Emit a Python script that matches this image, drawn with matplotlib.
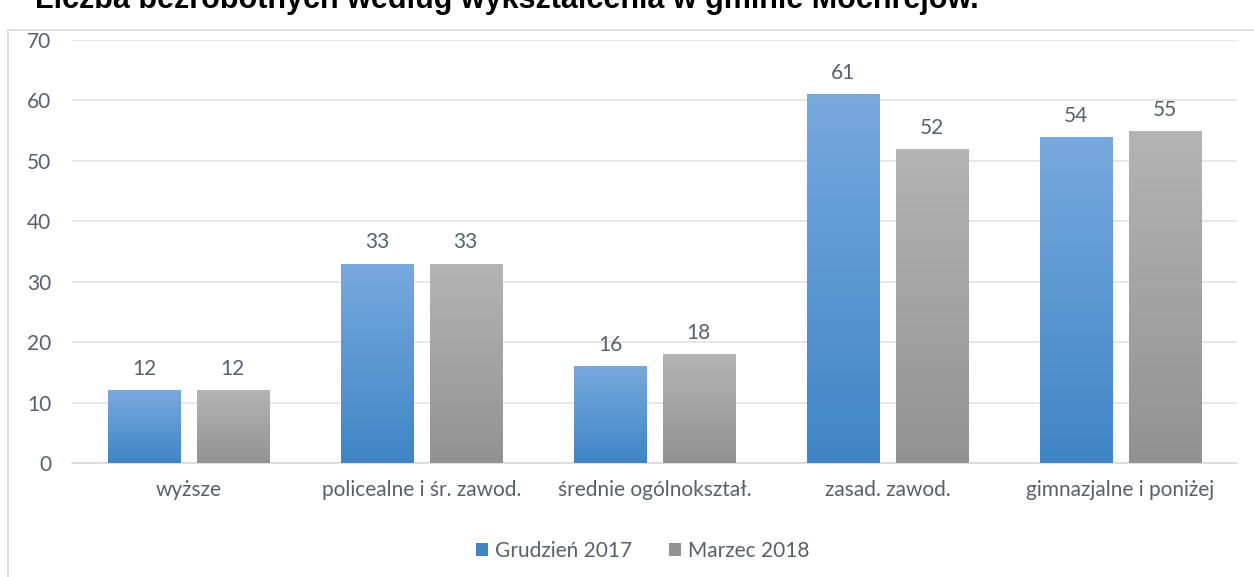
import numpy as np
import matplotlib.pyplot as plt
from matplotlib.patches import Rectangle
from matplotlib.colors import LinearSegmentedColormap

# ==========================================================
# DATA
# ==========================================================

categories = [
    "wyższe",
    "policealne i śr. zawod.",
    "średnie ogólnokształ.",
    "zasad. zawod.",
    "gimnazjalne i poniżej",
]
series_names = ["Grudzień 2017", "Marzec 2018"]
dec_2017 = [12, 33, 16, 61, 54]
mar_2018 = [12, 33, 18, 52, 55]

TITLE = "Liczba bezrobotnych według wykształcenia w gminie Mochrejów."

# ==========================================================
# STYLE
# ==========================================================

plt.rcParams["font.family"] = ["Lato", "DejaVu Sans"]
TEXT_COLOR = "#595f6b"
GRID_COLOR = "#e3e3e3"

BLUE_TOP, BLUE_BOT = "#78a9dd", "#3f85c6"
GRAY_TOP, GRAY_BOT = "#b4b4b4", "#929292"

BAR_W = 0.31
OFFSET = 0.19

# ==========================================================
# FIGURE
# ==========================================================

fig = plt.figure(figsize=(12.54, 5.77), dpi=100)
ax = fig.add_axes([0.0574, 0.1976, 0.9291, 0.7331])

# outer chart frame
fig.patches.append(Rectangle((8 / 1254, -0.01), 1.05, 1 - 30 / 577 + 0.01,
                             transform=fig.transFigure, fill=False,
                             edgecolor="#d9d9d9", linewidth=1.2))

x = np.arange(len(categories))


def gradient_bars(xpos, values, top, bottom, label):
    bars = ax.bar(xpos, values, BAR_W, color=bottom, label=label,
                  edgecolor="none", zorder=2)
    cmap = LinearSegmentedColormap.from_list("g", [bottom, top])
    grad = np.linspace(0, 1, 256).reshape(-1, 1)
    for b in bars:
        x0, y0 = b.get_x(), b.get_y()
        w, h = b.get_width(), b.get_height()
        im = ax.imshow(grad, cmap=cmap, aspect="auto", origin="lower",
                       extent=[x0, x0 + w, y0, y0 + h], zorder=3)
        im.set_clip_path(b)
        ax.annotate(f"{h:g}", (x0 + w / 2, y0 + h), xytext=(0, 8),
                    textcoords="offset points", ha="center", va="bottom",
                    fontsize=15, color=TEXT_COLOR)
    return bars


gradient_bars(x - OFFSET, dec_2017, BLUE_TOP, BLUE_BOT, series_names[0])
gradient_bars(x + OFFSET, mar_2018, GRAY_TOP, GRAY_BOT, series_names[1])

ax.set_xlim(-0.5, len(categories) - 0.5)
ax.set_ylim(0, 70)
ax.set_yticks(range(0, 71, 10))
ax.set_xticks(x)
ax.set_xticklabels(categories)
ax.tick_params(axis="both", length=0, labelsize=15, colors=TEXT_COLOR)
ax.tick_params(axis="y", pad=15)
ax.tick_params(axis="x", pad=12)

ax.grid(axis="y", color=GRID_COLOR, linewidth=1.2, zorder=0)
ax.set_axisbelow(True)
for side in ["top", "right", "left"]:
    ax.spines[side].set_visible(False)
ax.spines["bottom"].set_color("#d9d9d9")
ax.spines["bottom"].set_linewidth(1.2)

leg = ax.legend(loc="upper center", bbox_to_anchor=(0.49, -0.14), ncol=2,
                frameon=False, fontsize=15, handlelength=0.55,
                handleheight=0.55, columnspacing=1.8, handletextpad=0.35)
for t in leg.get_texts():
    t.set_color(TEXT_COLOR)

fig.text(35 / 1254, 1 - 8 / 577, TITLE, fontsize=22, fontweight="bold",
         family="Liberation Sans", color="black", ha="left", va="baseline")

fig.savefig("out.png", dpi=100)
